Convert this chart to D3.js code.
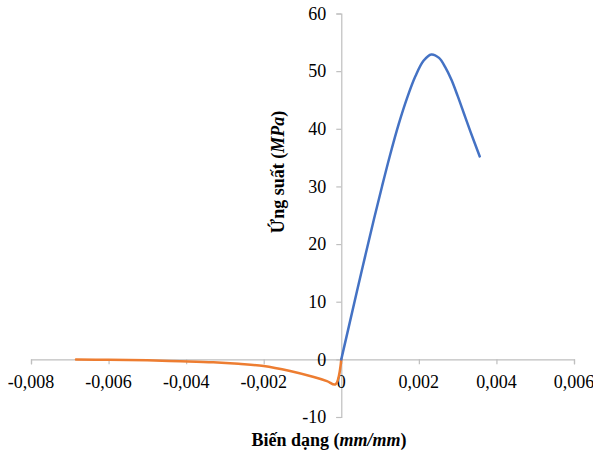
<!DOCTYPE html>
<html>
<head>
<meta charset="utf-8">
<script src="https://cdn.jsdelivr.net/npm/d3@7"></script>
<style>
  html, body { margin: 0; padding: 0; background: #fff; }
  svg { display: block; }
</style>
</head>
<body>
<svg id="chart" width="593" height="454" font-family="'Liberation Serif', 'Times New Roman', Times, 'DejaVu Serif', serif"></svg>
<script>
// Compression branch (blue)
const compStrain = [0, 0.000404, 0.000619, 0.000834, 0.00105, 0.00126, 0.00148, 0.0017, 0.00191, 0.00212, 0.00232, 0.00252, 0.00268, 0.00284, 0.003, 0.00316, 0.00333, 0.00357];
const compStress = [0, 11.8, 18.0, 24.1, 30.0, 35.5, 40.8, 45.4, 49.1, 51.8, 52.9, 52.3, 50.7, 48.5, 45.7, 42.7, 39.5, 35.2];

// Tension branch (orange)
const tensStrain = [-0.00684, -0.006, -0.005, -0.00415, -0.0033, -0.00265, -0.002, -0.00132, -0.00071, -0.00037, -0.00015, 0];
const tensStress = [-0.03, -0.08, -0.17, -0.33, -0.52, -0.78, -1.15, -2.03, -3.07, -3.77, -4.34, 0];

const xTicks = [-0.008, -0.006, -0.004, -0.002, 0, 0.002, 0.004, 0.006];
const xTickLabels = ["-0,008", "-0,006", "-0,004", "-0,002", "0", "0,002", "0,004", "0,006"];
const yTicks = [-10, 0, 10, 20, 30, 40, 50, 60];
const yTickLabels = ["-10", "0", "10", "20", "30", "40", "50", "60"];

const xTitleMain = "Biến dạng (";
const xTitleItalic = "mm/mm";
const yTitleMain = "Ứng suất (";
const yTitleItalic = "MPa";

const svg = d3.select("#chart");
const x = d3.scaleLinear().domain([-0.008, 0.006]).range([31, 574]);
const y = d3.scaleLinear().domain([-10, 60]).range([417, 13.5]);

const axisColor = "#BFBFBF";

// X axis at y=0
const xAxis = d3.axisBottom(x).tickValues(xTicks).tickSize(5).tickFormat("");
const gx = svg.append("g").attr("transform", `translate(0,${y(0)})`).call(xAxis);
gx.select(".domain").attr("stroke", axisColor).attr("stroke-width", 1.2);
gx.selectAll(".tick line").attr("stroke", axisColor).attr("stroke-width", 1.2);

// Y axis at x=0
const yAxis = d3.axisLeft(y).tickValues(yTicks).tickSize(5).tickFormat("");
const gy = svg.append("g").attr("transform", `translate(${x(0)},0)`).call(yAxis);
gy.select(".domain").attr("stroke", axisColor).attr("stroke-width", 1.2);
gy.selectAll(".tick line").attr("stroke", axisColor).attr("stroke-width", 1.2);

// Tick labels
svg.append("g").selectAll("text").data(xTicks).join("text")
  .attr("x", d => x(d)).attr("y", 388)
  .attr("text-anchor", "middle").attr("font-size", 18).attr("fill", "#000")
  .text((d, i) => xTickLabels[i]);

svg.append("g").selectAll("text").data(yTicks).join("text")
  .attr("x", x(0) - 15).attr("y", d => y(d) + 6.3)
  .attr("text-anchor", "end").attr("font-size", 18).attr("fill", "#000")
  .text((d, i) => yTickLabels[i]);

// Lines
const line = d3.line().x(d => x(d[0])).y(d => y(d[1])).curve(d3.curveCatmullRom.alpha(0.5));

svg.append("path")
  .datum(tensStrain.map((s, i) => [s, tensStress[i]]))
  .attr("d", line).attr("fill", "none")
  .attr("stroke", "#ED7D31").attr("stroke-width", 2.5).attr("stroke-linejoin", "round").attr("stroke-linecap", "round");

svg.append("path")
  .datum(compStrain.map((s, i) => [s, compStress[i]]))
  .attr("d", line).attr("fill", "none")
  .attr("stroke", "#4472C4").attr("stroke-width", 2.5).attr("stroke-linejoin", "round").attr("stroke-linecap", "round");

// Axis titles
const xt = svg.append("text").attr("x", 329).attr("y", 446)
  .attr("text-anchor", "middle").attr("font-size", 18).attr("font-weight", "bold").attr("fill", "#000");
xt.append("tspan").text(xTitleMain);
xt.append("tspan").attr("font-style", "italic").text(xTitleItalic);
xt.append("tspan").text(")");

const yt = svg.append("text")
  .attr("transform", "translate(284,172) rotate(-90)")
  .attr("text-anchor", "middle").attr("font-size", 18).attr("font-weight", "bold").attr("fill", "#000");
yt.append("tspan").text(yTitleMain);
yt.append("tspan").attr("font-style", "italic").text(yTitleItalic);
yt.append("tspan").text(")");
</script>
</body>
</html>
